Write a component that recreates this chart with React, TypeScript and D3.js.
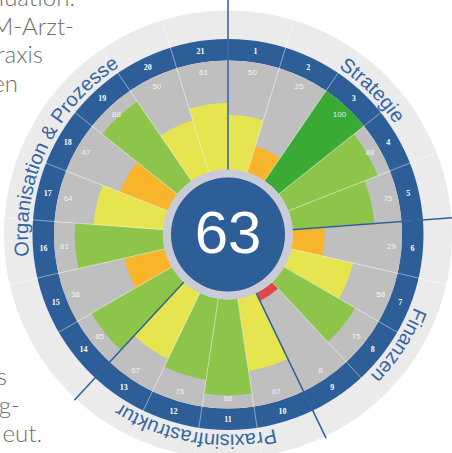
import React from 'react';
import * as d3 from 'd3';

// ---- data ----
const segmentNumbers = ['1','2','3','4','5','6','7','8','9','10','11','12','13','14','15','16','17','18','19','20','21'];
const scores = [50, 25, 100, 88, 75, 29, 58, 75, 8, 67, 88, 75, 67, 85, 38, 81, 64, 47, 88, 50, 61];
const categories = ['Strategie', 'Finanzen', 'Praxisinfrastruktur', 'Organisation & Prozesse'];
const categoryStarts = [0, 5, 9, 13];
const categoryLabelAngles = [45, 123, 189.5, 295.5];
const totalScore = '63';
const backgroundTop = ['Evaluation.', 'M-Arzt-', 'raxis', 'en'];
const backgroundBottom = ['s', 'g-', 'eut.'];

// ---- layout ----
const W = 452, H = 453;
const cx = 228, cy = 234.5;
const rCenter = 57;
const rInner = 65;
const rBarMax = 174;
const rBlue = 195.5;
const rOuter = 224;

const colorFor = (v: number) => {
  if (v >= 100) return '#3aaa35';
  if (v >= 75) return '#8dc54b';
  if (v >= 50) return '#e6e44f';
  if (v >= 20) return '#f8b52c';
  return '#e0474a';
};

export default function App() {
  const n = scores.length;
  const angle = d3.scaleLinear().domain([0, n]).range([0, 2 * Math.PI]);
  const radius = d3.scaleLinear().domain([0, 100]).range([rInner, rBarMax]);
  const arc = d3.arc<any>();

  const polar = (r: number, a: number) => [r * Math.sin(a), -r * Math.cos(a)];

  const labelPath = (R: number, centerDeg: number) => {
    const p = d3.path();
    const a0 = ((centerDeg - 80 - 90) * Math.PI) / 180;
    const a1 = ((centerDeg + 80 - 90) * Math.PI) / 180;
    p.moveTo(R * Math.cos(a0), R * Math.sin(a0));
    p.arc(0, 0, R, a0, a1, false);
    return p.toString();
  };

  return (
    <svg width={W} height={H} style={{ position: 'absolute', left: 0, top: 0, background: '#fff' }}>
      {/* background document text */}
      <g fontFamily="Lato, 'Open Sans', sans-serif" fontWeight={300} fontSize={24} fill="#6e6e6e" textAnchor="end">
        {backgroundTop.map((t, i) => (
          <text key={'t' + i} x={[75, 74, 43, 18][i]} y={6 + i * 28.5}>{t}</text>
        ))}
        {backgroundBottom.map((t, i) => (
          <text key={'b' + i} x={[7, 20, 42][i]} y={385 + i * 28.5}>{t}</text>
        ))}
      </g>
      <g transform={`translate(${cx},${cy})`}>
        {/* outer light ring */}
        <circle r={rOuter} fill="#ebebec" />
        {/* blue numbered ring */}
        <path d={arc({ innerRadius: rBarMax, outerRadius: rBlue, startAngle: 0, endAngle: 2 * Math.PI }) as string} fill="#2d5e97" />
        {/* grey background wedges */}
        {scores.map((v, i) => (
          <path key={'g' + i}
            d={arc({ innerRadius: rInner, outerRadius: rBarMax, startAngle: angle(i), endAngle: angle(i + 1) }) as string}
            fill="#bfbfbf" />
        ))}
        {/* colored bars */}
        {scores.map((v, i) => (
          <path key={'c' + i}
            d={arc({ innerRadius: rInner, outerRadius: radius(v), startAngle: angle(i), endAngle: angle(i + 1) }) as string}
            fill={colorFor(v)} />
        ))}
        {/* thin separators */}
        {scores.map((v, i) => {
          const [x1, y1] = polar(rInner, angle(i));
          const [x2, y2] = polar(rOuter, angle(i));
          return <line key={'s' + i} x1={x1} y1={y1} x2={x2} y2={y2} stroke="#ffffff" strokeOpacity={0.45} strokeWidth={1} />;
        })}
        {/* value labels */}
        {scores.map((v, i) => {
          const [x, y] = polar(164, angle(i + 0.5));
          return (
            <text key={'v' + i} x={x} y={y} fill="#ffffff" fillOpacity={0.85} fontSize={8}
              fontFamily="'Liberation Sans', Arial, sans-serif" textAnchor="middle" dominantBaseline="central">{v}</text>
          );
        })}
        {/* segment numbers */}
        {segmentNumbers.map((s, i) => {
          const [x, y] = polar(185, angle(i + 0.5));
          return (
            <text key={'n' + i} x={x} y={y} fill="#ffffff" fontSize={8} fontWeight="bold"
              fontFamily="'Liberation Serif', 'DejaVu Serif', serif" textAnchor="middle" dominantBaseline="central">{s}</text>
          );
        })}
        {/* category divider lines */}
        {categoryStarts.map((s, i) => {
          const [x1, y1] = polar(rCenter, angle(s));
          const [x2, y2] = polar(s === 0 ? 240 : 226, angle(s));
          return <line key={'d' + i} x1={x1} y1={y1} x2={x2} y2={y2} stroke="#2f5f98" strokeWidth={1.5} />;
        })}
        {/* center ring + circle */}
        <circle r={rInner} fill="#c9ccd6" />
        <circle r={rCenter} fill="#2d5e97" />
        <text x={0} y={18} fill="#ffffff" fontSize={60} textAnchor="middle"
          fontFamily="'Liberation Sans', Arial, sans-serif">{totalScore}</text>
        {/* category labels */}
        <defs>
          {categories.map((c, i) => (
            <path key={'p' + i} id={'catpath' + i} d={labelPath(200, categoryLabelAngles[i])} fill="none" />
          ))}
        </defs>
        {categories.map((c, i) => (
          <text key={'cl' + i} fill="#3566a3" fontSize={20} fontFamily="'Liberation Sans', Arial, sans-serif">
            <textPath href={'#catpath' + i} startOffset="50%" textAnchor="middle">{c}</textPath>
          </text>
        ))}
      </g>
    </svg>
  );
}
